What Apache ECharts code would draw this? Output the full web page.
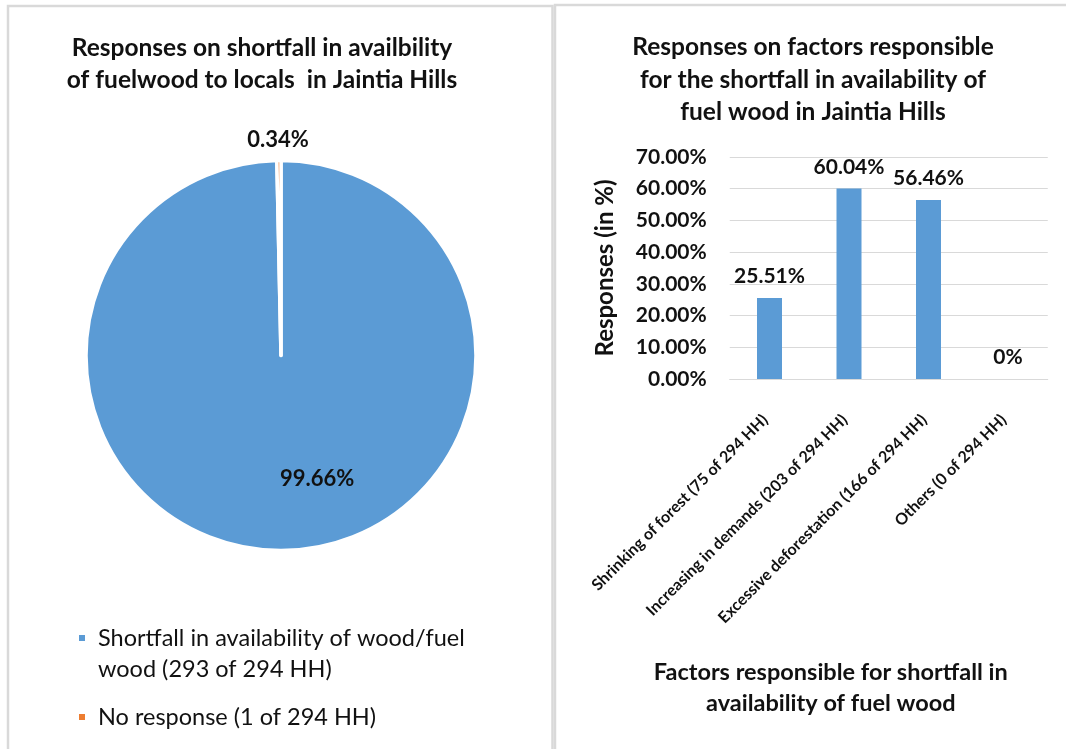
<!DOCTYPE html>
<html>
<head>
<meta charset="utf-8">
<script src="https://cdn.jsdelivr.net/npm/echarts@6/dist/echarts.min.js"></script>
<style>
  html, body { margin: 0; padding: 0; background: #fff; }
  #chart { width: 1066px; height: 749px; }
</style>
</head>
<body>
<div id="chart"></div>
<script>
// Household responses on fuelwood shortfall (pie)
const pieNames = ['Shortfall in availability of wood/fuel wood (293 of 294 HH)', 'No response (1 of 294 HH)'];
const pieValues = [99.66, 0.34];

// Factors behind the shortfall (bar)
const barCategories = [
  'Shrinking of forest (75 of 294 HH)',
  'Increasing in demands (203 of 294 HH)',
  'Excessive deforestation (166 of 294 HH)',
  'Others (0 of 294 HH)'
];
const barValues = [25.51, 60.04, 56.46, 0];

const FONT = 'Lato, "Open Sans", sans-serif';
const INK = '#111';
const GRID_GRAY = '#d9d9d9';

const chart = echarts.init(document.getElementById('chart'), null, { renderer: 'canvas' });

const pctLabel = v => (v === 0 ? '0%' : v.toFixed(2) + '%');

// Legend entries: long names wrap after "fuel"; an empty leading line keeps
// the swatch level with the first line of text.
const legendText = name => {
  const wrapped = name.replace('fuel wood', 'fuel\nwood');
  return wrapped.indexOf('\n') >= 0 ? '\n' + wrapped : wrapped;
};

chart.setOption({
  backgroundColor: '#fff',
  animation: false,
  textStyle: { fontFamily: FONT },
  graphic: [
    { type: 'rect', z: -10, shape: { x: 8, y: 6, width: 544.5, height: 800 },
      style: { fill: 'none', stroke: GRID_GRAY, lineWidth: 2.5 } },
    { type: 'rect', z: -10, shape: { x: 555, y: 5, width: 600, height: 800 },
      style: { fill: 'none', stroke: GRID_GRAY, lineWidth: 2.5 } }
  ],
  title: [
    {
      text: 'Responses on shortfall in availbility\nof fuelwood to locals  in Jaintia Hills',
      left: 262, top: 32, textAlign: 'center', padding: 0,
      textStyle: { fontFamily: FONT, fontSize: 24.5, fontWeight: 'bold', color: INK, lineHeight: 32 }
    },
    {
      text: 'Responses on factors responsible\nfor the shortfall in availability of\nfuel wood in Jaintia Hills',
      left: 813, top: 31, textAlign: 'center', padding: 0,
      textStyle: { fontFamily: FONT, fontSize: 24.5, fontWeight: 'bold', color: INK, lineHeight: 32.5 }
    }
  ],
  legend: {
    orient: 'vertical',
    left: 77, top: 591.5,
    padding: 0,
    itemWidth: 8, itemHeight: 8,
    itemGap: 17,
    icon: 'rect',
    selectedMode: false,
    formatter: legendText,
    textStyle: { fontFamily: FONT, fontSize: 23.5, color: INK, lineHeight: 31, padding: [0, 0, 0, 7] },
    data: pieNames
  },
  grid: { left: 729.75, right: 18.25, top: 157, bottom: 370, outerBoundsMode: 'none', containLabel: false },
  xAxis: {
    type: 'category',
    data: barCategories,
    axisLine: { show: true, lineStyle: { color: GRID_GRAY, width: 1 } },
    axisTick: { show: false },
    axisLabel: {
      interval: 0, rotate: 45, margin: 34, padding: [0, 6, 0, 0],
      fontFamily: FONT, fontSize: 16, fontWeight: 'bold', color: INK
    },
    name: 'Factors responsible for shortfall in\navailability of fuel wood',
    nameLocation: 'middle',
    nameGap: 278,
    nameTextStyle: { fontFamily: FONT, fontSize: 23.5, fontWeight: 'bold', color: INK, lineHeight: 31, padding: [0, 116, 0, 0] }
  },
  yAxis: {
    type: 'value',
    min: 0, max: 70, interval: 10,
    axisLine: { show: false },
    axisTick: { show: false },
    splitLine: { lineStyle: { color: GRID_GRAY, width: 1 } },
    axisLabel: {
      margin: 23,
      formatter: v => v.toFixed(2) + '%',
      fontFamily: FONT, fontSize: 21, fontWeight: 'bold', color: INK
    },
    name: 'Responses (in %)',
    nameLocation: 'middle',
    nameGap: 112,
    nameTextStyle: { fontFamily: FONT, fontSize: 24, fontWeight: 'bold', color: INK }
  },
  series: [
    {
      type: 'pie',
      center: [281, 355.5],
      radius: 195,
      startAngle: 90,
      clockwise: true,
      avoidLabelOverlap: false,
      itemStyle: { borderColor: '#fff', borderWidth: 3.5 },
      label: {
        show: true, position: 'inside',
        formatter: p => p.value.toFixed(2) + '%',
        fontFamily: FONT, fontSize: 22, fontWeight: 'bold', color: INK
      },
      labelLine: { show: false },
      labelLayout: p => (p.dataIndex === 0 ? { dx: 35, dy: 23 } : { dx: -2, dy: -115 }),
      emphasis: { disabled: true },
      data: pieNames.map((n, i) => ({
        name: n, value: pieValues[i],
        itemStyle: { color: ['#5b9bd5', '#ed7d31'][i] }
      }))
    },
    {
      type: 'bar',
      data: barValues,
      barWidth: 25,
      itemStyle: { color: '#5b9bd5' },
      label: {
        show: true, position: 'top', distance: 11,
        formatter: p => pctLabel(p.value),
        fontFamily: FONT, fontSize: 21, fontWeight: 'bold', color: INK
      },
      emphasis: { disabled: true }
    }
  ]
});
</script>
</body>
</html>
